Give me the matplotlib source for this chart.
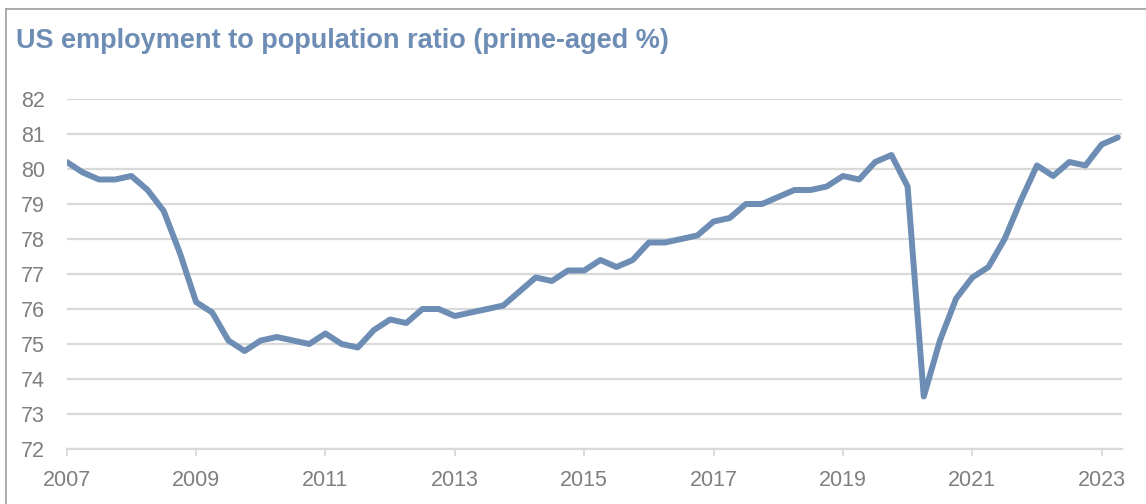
import matplotlib
matplotlib.use("Agg")
import matplotlib.pyplot as plt
from matplotlib.lines import Line2D
import numpy as np

FONT = "Liberation Sans"

# Quarterly data, 2007 Q1 .. 2023 Q2
start_year = 2007
values = [
    80.2, 79.9, 79.7, 79.7,   # 2007
    79.8, 79.4, 78.8, 77.6,   # 2008
    76.2, 75.9, 75.1, 74.8,   # 2009
    75.1, 75.2, 75.1, 75.0,   # 2010
    75.3, 75.0, 74.9, 75.4,   # 2011
    75.7, 75.6, 76.0, 76.0,   # 2012
    75.8, 75.9, 76.0, 76.1,   # 2013
    76.5, 76.9, 76.8, 77.1,   # 2014
    77.1, 77.4, 77.2, 77.4,   # 2015
    77.9, 77.9, 78.0, 78.1,   # 2016
    78.5, 78.6, 79.0, 79.0,   # 2017
    79.2, 79.4, 79.4, 79.5,   # 2018
    79.8, 79.7, 80.2, 80.4,   # 2019
    79.5, 73.5, 75.1, 76.3,   # 2020
    76.9, 77.2, 78.0, 79.1,   # 2021
    80.1, 79.8, 80.2, 80.1,   # 2022
    80.7, 80.9,               # 2023
]
x_ticks = [2007, 2009, 2011, 2013, 2015, 2017, 2019, 2021, 2023]
y_ticks = [72, 73, 74, 75, 76, 77, 78, 79, 80, 81, 82]
title = "US employment to population ratio (prime-aged %)"

dates = start_year + np.arange(len(values)) / 4.0

LINE = "#6E8DB5"
GRID = "#D9D9D9"
TXT = "#7F7F7F"

fig = plt.figure(figsize=(11.46, 5.04), dpi=100)
ax = fig.add_axes([0.0582, 0.1091, 0.9788 - 0.0582, 0.8036 - 0.1091])
ax.plot(dates, values, color=LINE, lw=4.3, solid_joinstyle="round", solid_capstyle="round", zorder=3)

ax.set_xlim(2007, 2023.31)
ax.set_ylim(72, 82)
ax.set_yticks(y_ticks)
ax.set_xticks(x_ticks)
ax.set_xticklabels([str(t) for t in x_ticks])
ax.grid(axis="y", color=GRID, lw=1.6, zorder=1)
ax.grid(axis="x", visible=False)
for s in ["top", "right", "left"]:
    ax.spines[s].set_visible(False)
ax.spines["bottom"].set_color(GRID)
ax.spines["bottom"].set_linewidth(1.6)
ax.tick_params(axis="y", length=0, pad=15.5, labelsize=15.5, labelcolor=TXT)
ax.tick_params(axis="x", length=5, width=1.3, color=GRID, pad=10, labelsize=15.5, labelcolor=TXT)
for lab in ax.get_xticklabels() + ax.get_yticklabels():
    lab.set_fontfamily(FONT)

fig.text(16 / 1146, 1 - 47.5 / 504, title, fontsize=19.5, fontweight="bold", color=LINE,
         family=FONT, va="baseline", ha="left")

# outer frame (cut off at right and bottom)
fig.add_artist(Line2D([6 / 1146, 6 / 1146], [0, 1 - 9 / 504], transform=fig.transFigure, color="#A6A6A6", lw=1.3))
fig.add_artist(Line2D([6 / 1146, 1], [1 - 9 / 504, 1 - 9 / 504], transform=fig.transFigure, color="#A6A6A6", lw=1.3))

fig.savefig("out.png", dpi=100)
